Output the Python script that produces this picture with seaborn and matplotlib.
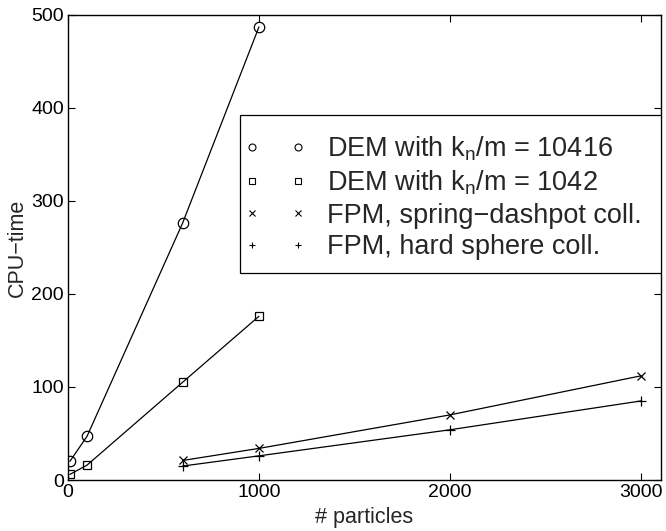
import matplotlib
matplotlib.use("Agg")
import matplotlib.pyplot as plt
import seaborn as sns
import pandas as pd
from matplotlib.lines import Line2D
from matplotlib.patches import Rectangle

sns.set_style("ticks")
plt.rcParams['font.family'] = ['Liberation Sans', 'DejaVu Sans']
plt.rcParams['mathtext.fontset'] = 'custom'
plt.rcParams['mathtext.rm'] = 'Liberation Sans'
plt.rcParams['mathtext.it'] = 'Liberation Sans'

# data
dem1_x = [10, 100, 600, 1000]
dem1_y = [20, 47, 276, 487]
dem2_x = [10, 100, 600, 1000]
dem2_y = [6, 16, 105, 176]
fpm_sd_x = [600, 1000, 2000, 3000]
fpm_sd_y = [21, 34, 70, 112]
fpm_hs_x = [600, 1000, 2000, 3000]
fpm_hs_y = [15, 26, 54, 85]

labels = ["DEM with k$_\\mathregular{n}$/m = 10416",
          "DEM with k$_\\mathregular{n}$/m = 1042",
          "FPM, spring\u2212dashpot coll.",
          "FPM, hard sphere coll."]
markers = ["o", "s", "x", "+"]
msizes = [7.5, 5.5, 6, 7.5]

series = [(dem1_x, dem1_y), (dem2_x, dem2_y), (fpm_sd_x, fpm_sd_y), (fpm_hs_x, fpm_hs_y)]

fig = plt.figure(figsize=(6.66, 5.31), dpi=100)
ax = fig.add_axes([0.102, 0.096, 0.8905, 0.876])

for (xs, ys), m, ms in zip(series, markers, msizes):
    df = pd.DataFrame({"x": xs, "y": ys})
    sns.lineplot(data=df, x="x", y="y", ax=ax, color="black", linewidth=0.9,
                 marker=m, markersize=ms, markerfacecolor="none",
                 markeredgecolor="black", markeredgewidth=0.9)

ax.set_xlim(0, 3105)
ax.set_ylim(0, 500)
ax.set_xticks([0, 1000, 2000, 3000])
ax.set_yticks([0, 100, 200, 300, 400, 500])
ax.tick_params(direction="in", length=5, width=0.8, top=True, right=True,
               labelsize=14, pad=3, colors="black")
for s in ax.spines.values():
    s.set_linewidth(1.0)
    s.set_color("black")
ax.set_xlabel("# particles", fontsize=15.5, labelpad=4)
ax.set_ylabel("CPU\u2212time", fontsize=15.5, labelpad=2)

# legend frame
ax.add_patch(Rectangle((0.29, 0.445), 0.71, 0.34, transform=ax.transAxes,
                       facecolor="white", edgecolor="black", linewidth=0.9,
                       zorder=4))

handles = [Line2D([], [], linestyle="none", marker=m, markersize=5,
                  markerfacecolor="none", markeredgecolor="black",
                  markeredgewidth=0.8) for m in markers]
leg = ax.legend(handles, labels, numpoints=2, loc="upper left",
                bbox_to_anchor=(0.296, 0.742),
                fontsize=19.5, frameon=False,
                handlelength=2.3, handletextpad=0.8, labelspacing=0.2,
                borderpad=0, borderaxespad=0)
leg.set_zorder(5)

fig.savefig("out.png", dpi=100)
